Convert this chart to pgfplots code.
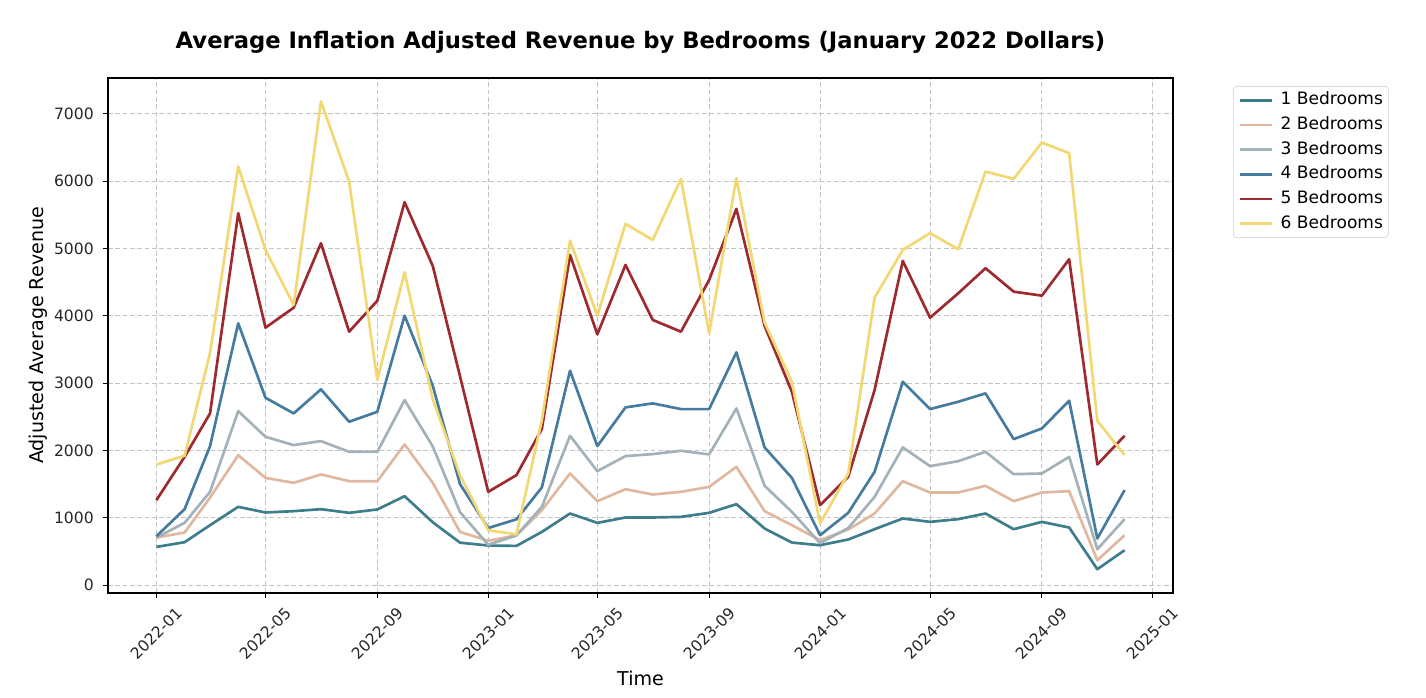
\documentclass[border=0pt]{standalone}
\usepackage{fontspec}
\setmainfont{DejaVu Sans}
\usepackage{pgfplots}
\usepackage{pgfplotstable}
\pgfplotsset{compat=1.18}

\definecolor{bedA}{HTML}{3E7D8C}
\definecolor{bedB}{HTML}{E0B8A0}
\definecolor{bedC}{HTML}{A3B2B8}
\definecolor{bedD}{HTML}{467BA0}
\definecolor{bedE}{HTML}{9E2A30}
\definecolor{bedF}{HTML}{F2D873}
\definecolor{gridgray}{HTML}{C4C4C4}

% day = days since 2022-01-01 (first of each month)
\pgfplotstableread{
day  b1   b2   b3   b4   b5   b6
0    569  708  708  728  1263 1793
31   639  783  926  1129 1906 1922
59   892  1300 1387 2065 2551 3447
90   1164 1931 2585 3888 5523 6216
120  1080 1594 2204 2783 3824 4978
151  1100 1520 2080 2551 4120 4160
181  1129 1645 2140 2908 5077 7181
212  1075 1545 1981 2427 3764 5993
243  1125 1545 1981 2575 4224 3046
273  1322 2090 2749 4002 5686 4646
304  935  1520 2060 2960 4740 2760
334  632  792  1085 1500 3100 1630
365  590  660  600  850  1387 817
396  584  740  740  978  1634 755
424  792  1114 1164 1452 2320 2450
455  1065 1659 2219 3185 4903 5116
485  926  1248 1694 2065 3725 4002
516  1006 1426 1917 2640 4755 5364
546  1006 1347 1947 2700 3938 5126
577  1015 1387 1996 2615 3764 6033
608  1075 1461 1942 2615 4532 3740
638  1204 1758 2625 3457 5587 6043
669  842  1100 1476 2046 3850 3900
699  634  892  1090 1594 2873 3021
730  594  669  625  743  1189 917
761  679  827  850  1075 1610 1659
790  832  1065 1312 1684 2898 4269
821  991  1545 2046 3021 4814 4978
851  941  1377 1768 2615 3972 5226
882  981  1377 1842 2724 4334 4988
912  1065 1476 1981 2848 4706 6141
943  832  1248 1649 2169 4358 6033
974  941  1377 1659 2328 4299 6572
1004 857  1397 1906 2739 4839 6414
1035 238  371  535  694  1793 2441
1065 520  743  981  1412 2219 1932
}\revenue

\begin{document}
\begin{tikzpicture}
\useasboundingbox (-81pt,-78.75pt) rectangle (988.5pt,444.75pt);
\begin{axis}[
    at={(0pt,0pt)}, anchor=south west,
    width=798.75pt, height=386.25pt, scale only axis,
    xmin=-53.25, xmax=1118.25,
    ymin=-115, ymax=7530,
    xtick={0,120,243,365,485,608,730,851,974,1096},
    xticklabels={2022-01,2022-05,2022-09,2023-01,2023-05,2023-09,2024-01,2024-05,2024-09,2025-01},
    ytick={0,1000,...,7000},
    /pgf/number format/1000 sep={},
    /pgf/number format/assume math mode=true,
    tick label style={font=\fontsize{11.7}{13}\selectfont, text=black!85},
    xticklabel style={yshift=-27pt, rotate=45, anchor=center},
    yticklabel style={anchor=east, inner sep=0pt, xshift=-7pt},
    tick align=outside,
    major tick length=3.5pt,
    every tick/.style={black, line width=0.8pt},
    xtick pos=bottom, ytick pos=left,
    axis line style={line width=0.8pt},
    grid=major,
    major grid style={gridgray, line width=0.7pt, dash pattern=on 3.5pt off 2pt},
    title={Average Inflation Adjusted Revenue by Bedrooms (January 2022 Dollars)},
    title style={at={(axis description cs:0.5,1)}, anchor=center, yshift=21pt,
        font=\bfseries\fontsize{17}{20}\selectfont},
    xlabel={Time},
    xlabel style={at={(axis description cs:0.5,0)}, anchor=center, yshift=-63.75pt,
        font=\fontsize{14.3}{16}\selectfont},
    ylabel={Adjusted Average Revenue},
    ylabel style={at={(axis description cs:-0.0657,0.5)}, anchor=center,
        font=\fontsize{14.3}{16}\selectfont},
    legend cell align=left,
    legend image code/.code={\draw[#1] (0pt,0pt) -- (24pt,0pt);},
    legend style={at={(axis description cs:1,1)}, anchor=north west,
        xshift=45pt, yshift=-6pt,
        draw=black!20, rounded corners=2.5pt, fill=white,
        inner xsep=4pt, inner ysep=4.5pt, row sep=6.5pt,
        font=\fontsize{12.8}{14}\selectfont,
        nodes={inner sep=0pt, text height=9.4pt, text depth=2.6pt},
        /tikz/every odd column/.append style={column sep=5.5pt}},
    every axis plot/.append style={line width=2pt, line join=round},
]
\addplot[bedA] table[x=day, y=b1] {\revenue};
\addlegendentry{1 Bedrooms}
\addplot[bedB] table[x=day, y=b2] {\revenue};
\addlegendentry{2 Bedrooms}
\addplot[bedC] table[x=day, y=b3] {\revenue};
\addlegendentry{3 Bedrooms}
\addplot[bedD] table[x=day, y=b4] {\revenue};
\addlegendentry{4 Bedrooms}
\addplot[bedE] table[x=day, y=b5] {\revenue};
\addlegendentry{5 Bedrooms}
\addplot[bedF] table[x=day, y=b6] {\revenue};
\addlegendentry{6 Bedrooms}
\end{axis}
\end{tikzpicture}
\end{document}
